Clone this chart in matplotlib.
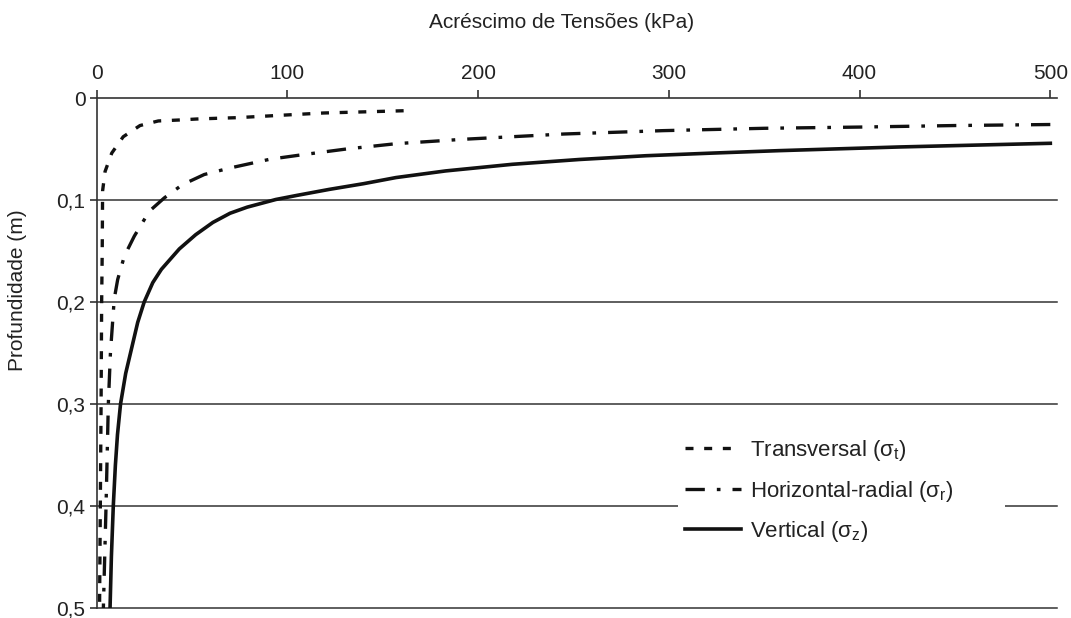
import matplotlib
matplotlib.use("Agg")
import matplotlib.pyplot as plt
from matplotlib.patches import Rectangle

plt.rcParams['font.family'] = ['Liberation Sans', 'DejaVu Sans']
plt.rcParams['mathtext.fontset'] = 'custom'
plt.rcParams['mathtext.rm'] = 'Liberation Sans'
plt.rcParams['mathtext.it'] = 'Liberation Sans:italic'

# data: stress increase (kPa) vs depth (m)
vert_kpa = [500, 421, 358, 323, 288, 253, 218, 183, 157, 140, 122, 105, 94, 79, 70, 61,
            52, 43.4, 34, 29.5, 25.0, 21.6, 18.2, 15.3, 12.6, 11.0, 9.9, 8.8, 7.8, 7.1]
vert_z = [0.0444, 0.048, 0.0516, 0.054, 0.0566, 0.0603, 0.065, 0.0715, 0.078, 0.084, 0.0896,
          0.0955, 0.0995, 0.107, 0.113, 0.122, 0.134, 0.148, 0.168, 0.181, 0.2, 0.22, 0.247,
          0.27, 0.3, 0.33, 0.36, 0.4, 0.45, 0.5]

rad_kpa = [500, 450, 400, 350, 297, 245, 192, 157, 131, 108, 91, 70, 56.5, 45, 35.5, 27.7,
           19.8, 14.6, 11.1, 9.3, 7.3, 6.2, 5.0, 3.6]
rad_z = [0.026, 0.027, 0.0285, 0.0297, 0.032, 0.0353, 0.0405, 0.0448, 0.05, 0.0556, 0.06,
         0.0686, 0.075, 0.085, 0.098, 0.111, 0.1355, 0.155, 0.178, 0.197, 0.25, 0.3, 0.4, 0.5]

trans_kpa = [161, 119, 96, 73.5, 63, 52.5, 43, 32.4, 22.8, 14, 8, 4.5, 3.2, 3.0, 2.7,
             2.4, 2.0, 1.6]
trans_z = [0.0125, 0.0147, 0.017, 0.0193, 0.0199, 0.0206, 0.0216, 0.0225, 0.027, 0.038, 0.054,
           0.072, 0.091, 0.15, 0.2, 0.3, 0.4, 0.5]

x_ticks = [0, 100, 200, 300, 400, 500]
depth_ticks = [0, 0.1, 0.2, 0.3, 0.4, 0.5]
depth_labels = ['0', '0,1', '0,2', '0,3', '0,4', '0,5']
grid_depths = [0.1, 0.2, 0.3, 0.4, 0.5]

ink = '#111111'
txt = '#222222'

fig = plt.figure(figsize=(10.71, 6.18), dpi=100)
ax = fig.add_axes([96.5 / 1071, 10 / 618, (1057 - 96.5) / 1071, 510 / 618])

for d in grid_depths:
    ax.axhline(d, color='#333333', lw=1.1, clip_on=False, zorder=1)

ax.plot(trans_kpa, trans_z, color=ink, lw=2.4, linestyle=(0, (2.4, 3.2)),
        label=r'Transversal ($\mathregular{\sigma_t}$)', zorder=3)
ax.plot(rad_kpa, rad_z, color=ink, lw=2.4, linestyle=(0, (5.8, 3.6, 1.1, 3.6)),
        label=r'Horizontal-radial ($\mathregular{\sigma_r}$)', zorder=3)
ax.plot(vert_kpa, vert_z, color=ink, lw=2.6, linestyle='-',
        label=r'Vertical ($\mathregular{\sigma_z}$)', zorder=3)

# white patch behind the legend (hides part of the 0,4 line)
ax.add_patch(Rectangle((305, 0.385), 171, 0.03, facecolor='white', edgecolor='none', zorder=2))

ax.set_xlim(0, 503.5)
ax.set_ylim(0.5, 0)
ax.xaxis.tick_top()
ax.set_xticks(x_ticks)
ax.set_yticks(depth_ticks)
ax.set_yticklabels(depth_labels)

for s in ['bottom', 'right']:
    ax.spines[s].set_visible(False)
for s in ['top', 'left']:
    ax.spines[s].set_color('#333333')
    ax.spines[s].set_linewidth(1.2)

ax.tick_params(axis='x', direction='out', length=6, width=1.2, pad=5,
               labelsize=15, colors='#333333', labelcolor=txt)
ax.tick_params(axis='y', direction='out', length=5, width=1.2, pad=3,
               labelsize=15, colors='#333333', labelcolor=txt)

fig.text(562 / 1071, 1 - 22 / 618, 'Acréscimo de Tensões (kPa)', ha='center', va='center',
         fontsize=15, color=txt)
fig.text(18 / 1071, 1 - 290 / 618, 'Profundidade (m)', ha='center', va='center',
         rotation=90, fontsize=15, color=txt)

ax.legend(loc='center left', bbox_to_anchor=(674 / 1071, 1 - 491 / 618),
          bbox_transform=fig.transFigure, frameon=False, borderpad=0,
          handlelength=2.5, handletextpad=0.4, labelspacing=0.7,
          fontsize=16, labelcolor=txt)

fig.savefig('out.png', dpi=100)
